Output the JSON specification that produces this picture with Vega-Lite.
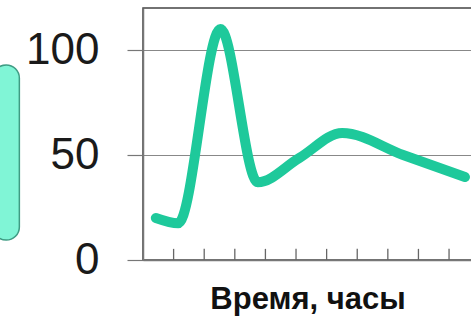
{
  "$schema": "https://vega.github.io/schema/vega-lite/v6.json",
  "width": 329,
  "height": 252,
  "autosize": "none",
  "padding": {"left": 143, "top": 8, "right": 0, "bottom": 57},
  "background": "white",
  "config": {
    "view": {"stroke": "#444", "strokeWidth": 1.5},
    "font": "Liberation Sans"
  },
  "datasets": {
    "curve": [
      {"hours": 0.42, "value": 20},
      {"hours": 1.15, "value": 17.5},
      {"hours": 2.53, "value": 110},
      {"hours": 3.75, "value": 37},
      {"hours": 5.1, "value": 48.5},
      {"hours": 6.51, "value": 60.5},
      {"hours": 8.5, "value": 50},
      {"hours": 10.52, "value": 39.5}
    ],
    "ticks": [
      {"hours": 1, "lo": 0, "hi": 5.3},
      {"hours": 2, "lo": 0, "hi": 5.3},
      {"hours": 3, "lo": 0, "hi": 5.3},
      {"hours": 4, "lo": 0, "hi": 5.3},
      {"hours": 5, "lo": 0, "hi": 5.3},
      {"hours": 6, "lo": 0, "hi": 5.3},
      {"hours": 7, "lo": 0, "hi": 5.3},
      {"hours": 8, "lo": 0, "hi": 5.3},
      {"hours": 9, "lo": 0, "hi": 5.3},
      {"hours": 10, "lo": 0, "hi": 5.3}
    ],
    "box": [
      {"x0": -4.9, "x1": -4.04, "y0": 9.5, "y1": 92.9}
    ]
  },
  "layer": [
    {
      "data": {"name": "box"},
      "mark": {"type": "rect", "fill": "#80f5d6", "stroke": "#3f9c84", "strokeWidth": 1.5, "cornerRadius": 16, "clip": false},
      "encoding": {
        "x": {"field": "x0", "type": "quantitative", "scale": {"domain": [0, 10.75], "nice": false, "zero": false}},
        "x2": {"field": "x1"},
        "y": {"field": "y0", "type": "quantitative", "scale": {"domain": [0, 120], "nice": false}},
        "y2": {"field": "y1"}
      }
    },
    {
      "data": {"name": "ticks"},
      "mark": {"type": "rule", "color": "#666", "strokeWidth": 1.3},
      "encoding": {
        "x": {"field": "hours", "type": "quantitative"},
        "y": {"field": "lo", "type": "quantitative"},
        "y2": {"field": "hi"}
      }
    },
    {
      "data": {"name": "curve"},
      "mark": {"type": "line", "color": "#1ec99b", "strokeWidth": 10, "strokeCap": "round", "strokeJoin": "round", "interpolate": "monotone"},
      "encoding": {
        "x": {
          "field": "hours", "type": "quantitative",
          "scale": {"domain": [0, 10.75], "nice": false, "zero": false},
          "axis": {
            "title": "Время, часы",
            "titleFont": "Liberation Sans",
            "titleFontSize": 31,
            "titleFontWeight": "bold",
            "titleColor": "#111",
            "titlePadding": 24,
            "labels": false,
            "grid": false,
            "ticks": false,
            "domainColor": "#777",
            "domainWidth": 1.5
          }
        },
        "y": {
          "field": "value", "type": "quantitative",
          "scale": {"domain": [0, 120], "nice": false},
          "axis": {
            "title": null,
            "values": [0, 50, 100],
            "grid": true,
            "gridColor": "#888",
            "gridWidth": 1.2,
            "tickSize": 16,
            "tickColor": "#777",
            "tickWidth": 1.2,
            "domainColor": "#777",
            "domainWidth": 1.5,
            "labelFont": "Liberation Sans",
            "labelFontSize": 44,
            "labelColor": "#1a1a1a",
            "labelPadding": 28
          }
        }
      }
    }
  ]
}
